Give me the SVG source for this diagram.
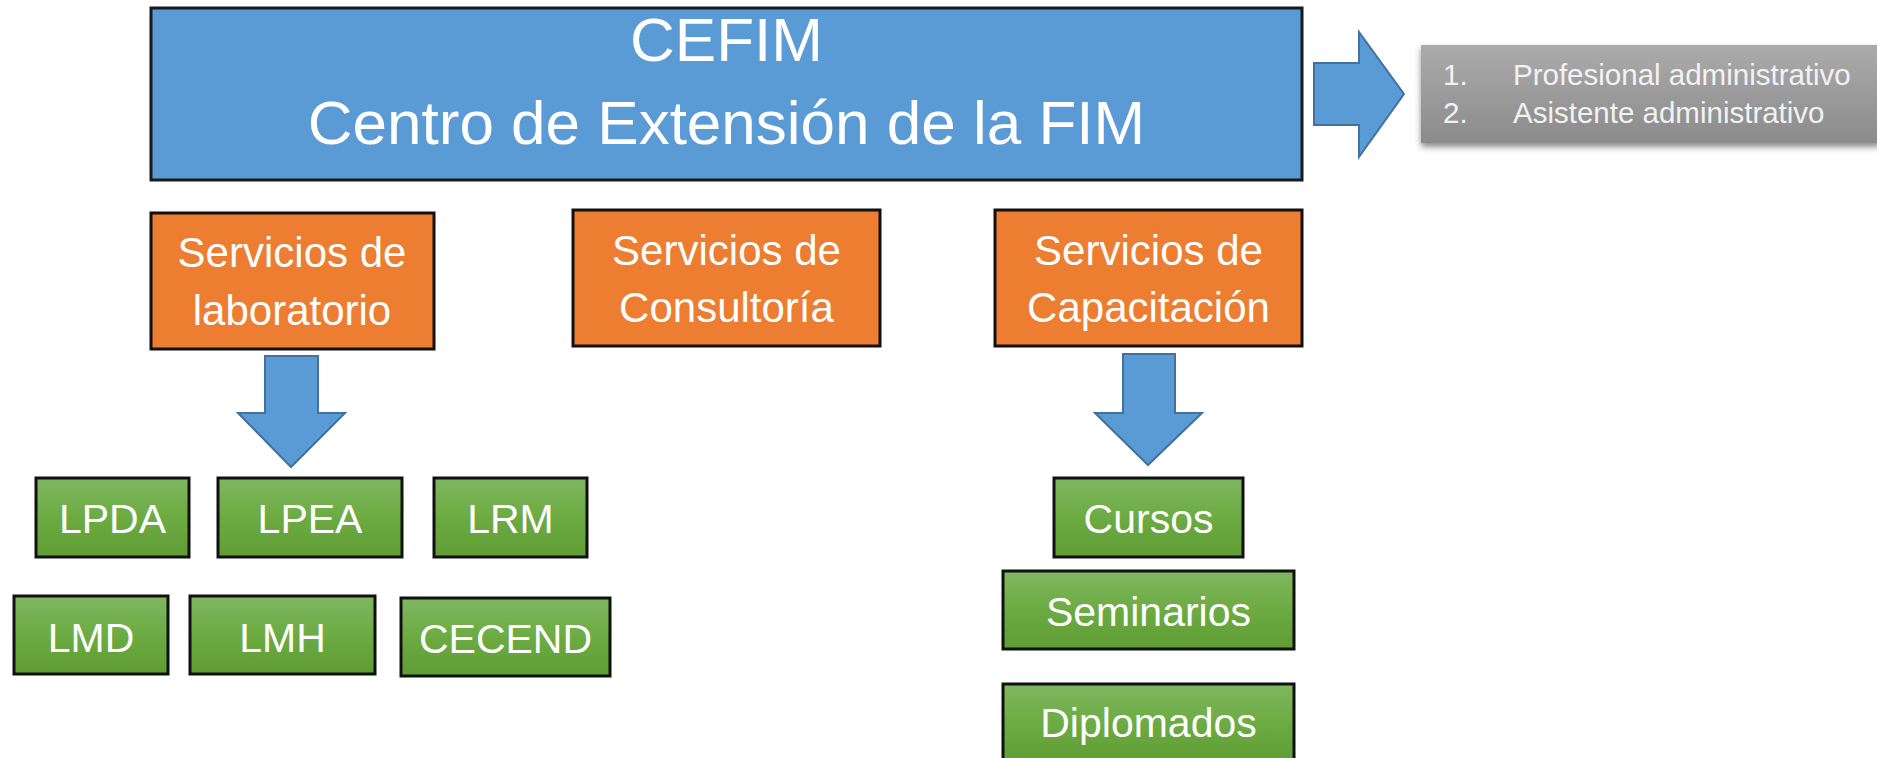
<svg xmlns="http://www.w3.org/2000/svg" width="1877" height="758" viewBox="0 0 1877 758">
  <defs>
    <linearGradient id="gGreen" x1="0" y1="0" x2="0" y2="1">
      <stop offset="0" stop-color="#80b761"/>
      <stop offset="0.5" stop-color="#6cab42"/>
      <stop offset="1" stop-color="#5f9d33"/>
    </linearGradient>
    <linearGradient id="gGray" x1="0" y1="0" x2="0" y2="1">
      <stop offset="0" stop-color="#ababab"/>
      <stop offset="1" stop-color="#8b8b8b"/>
    </linearGradient>
    <filter id="shadow" x="-10%" y="-20%" width="120%" height="160%">
      <feDropShadow dx="0" dy="4" stdDeviation="3" flood-color="#000" flood-opacity="0.45"/>
    </filter>
  </defs>
  <style>
    .blue { fill: #5b9bd5; stroke: #1a1a1a; stroke-width: 3; }
    .orange { fill: #ed7d31; stroke: #111; stroke-width: 3; }
    .green { fill: url(#gGreen); stroke: #111; stroke-width: 3; }
    .arrow { fill: #5b9bd5; stroke: #41719c; stroke-width: 2; stroke-linejoin: miter; }
    .t { font-family: "Liberation Sans", Arial, sans-serif; fill: #ffffff; text-anchor: middle; }
    .big { font-size: 62px; }
    .mid { font-size: 42px; }
    .sm { font-size: 41px; }
    .list { font-family: "Liberation Sans", Arial, sans-serif; font-size: 29.5px; fill: #f2f2f2; }
  </style>
  <rect width="1877" height="758" fill="#ffffff"/>

  <g id="connectors">
    <polygon class="arrow" points="1314,63 1359,63 1359,32 1404,94 1359,157 1359,125 1314,125"/>
    <polygon class="arrow" points="265,356 318,356 318,413 345,413 291,467 238,413 265,413"/>
    <polygon class="arrow" points="1123,354 1175,354 1175,413 1202,413 1148,465 1095,413 1123,413"/>
  </g>

  <g id="cefim">
    <rect class="blue" x="151" y="8" width="1151" height="172"/>
    <text class="t big" x="726.5" y="61">CEFIM</text>
    <text class="t big" x="726.5" y="144">Centro de Extensión de la FIM</text>
  </g>

  <g id="personal">
    <rect x="1421" y="45" width="460" height="98" fill="url(#gGray)" filter="url(#shadow)"/>
    <text class="list" x="1443" y="85">1.</text>
    <text class="list" x="1513" y="85">Profesional administrativo</text>
    <text class="list" x="1443" y="123">2.</text>
    <text class="list" x="1513" y="123">Asistente administrativo</text>
  </g>

  <g id="serv-lab">
    <rect class="orange" x="151" y="213" width="283" height="136"/>
    <text class="t mid" x="292" y="267">Servicios de</text>
    <text class="t mid" x="292" y="325">laboratorio</text>
  </g>

  <g id="serv-consultoria">
    <rect class="orange" x="573" y="210" width="307" height="136"/>
    <text class="t mid" x="726.5" y="265">Servicios de</text>
    <text class="t mid" x="726.5" y="322">Consultoría</text>
  </g>

  <g id="serv-capacitacion">
    <rect class="orange" x="995" y="210" width="307" height="136"/>
    <text class="t mid" x="1148.5" y="265">Servicios de</text>
    <text class="t mid" x="1148.5" y="322">Capacitación</text>
  </g>

  <g id="lpda">
    <rect class="green" x="36" y="478" width="153" height="79"/>
    <text class="t sm" x="112.5" y="533">LPDA</text>
  </g>
  <g id="lpea">
    <rect class="green" x="218" y="478" width="184" height="79"/>
    <text class="t sm" x="310" y="533">LPEA</text>
  </g>
  <g id="lrm">
    <rect class="green" x="434" y="478" width="153" height="79"/>
    <text class="t sm" x="510.5" y="533">LRM</text>
  </g>
  <g id="lmd">
    <rect class="green" x="14" y="596" width="154" height="78"/>
    <text class="t sm" x="91" y="652">LMD</text>
  </g>
  <g id="lmh">
    <rect class="green" x="190" y="596" width="185" height="78"/>
    <text class="t sm" x="282.5" y="652">LMH</text>
  </g>
  <g id="cecend">
    <rect class="green" x="401" y="598" width="209" height="78"/>
    <text class="t sm" x="505.5" y="653">CECEND</text>
  </g>

  <g id="cursos">
    <rect class="green" x="1054" y="478" width="189" height="79"/>
    <text class="t sm" x="1148.5" y="533">Cursos</text>
  </g>
  <g id="seminarios">
    <rect class="green" x="1003" y="571" width="291" height="78"/>
    <text class="t sm" x="1148.5" y="626">Seminarios</text>
  </g>
  <g id="diplomados">
    <rect class="green" x="1003" y="684" width="291" height="80"/>
    <text class="t sm" x="1148.5" y="737">Diplomados</text>
  </g>
</svg>
